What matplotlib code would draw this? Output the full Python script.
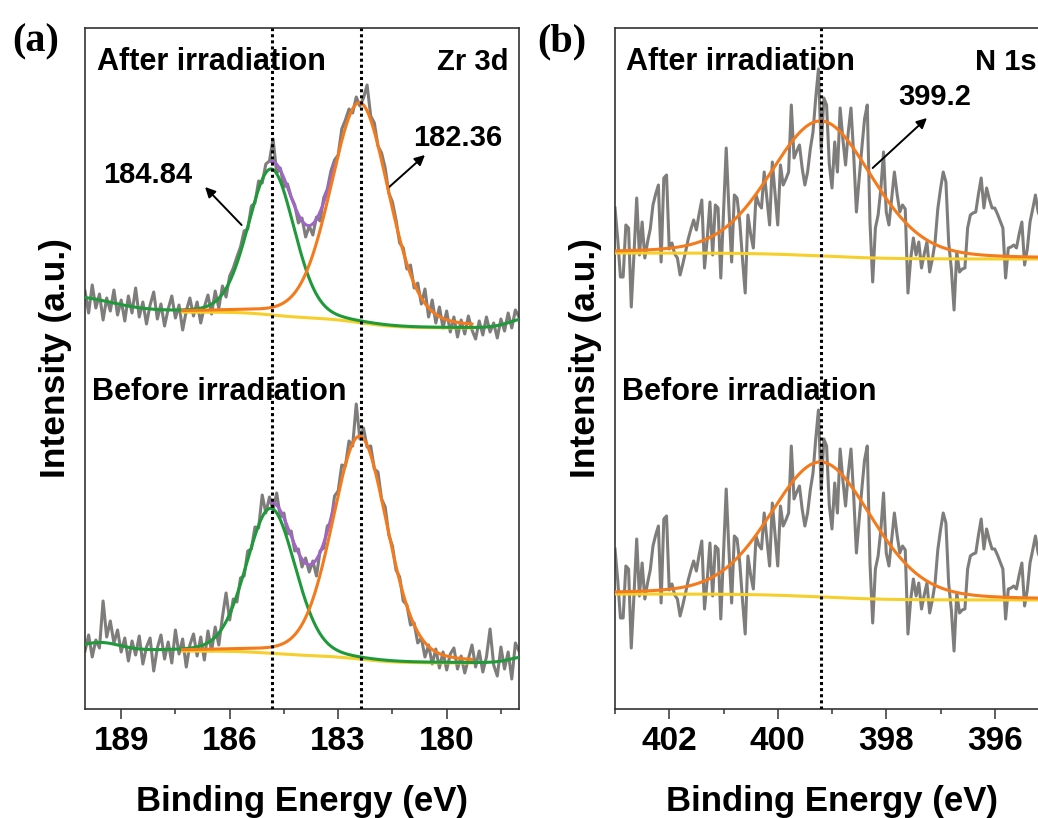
import numpy as np
import matplotlib
matplotlib.use("Agg")
import matplotlib.pyplot as plt
from matplotlib.ticker import MultipleLocator

# ---------------- data ----------------
# Zr 3d spectra: binding energy grid 190.0 -> 178.0 eV, step 0.1 eV (stacked intensities, a.u.)
zr_be_range = (190.0, 178.0, 0.1)
zr_after = [418, 396, 424, 401, 415, 389, 411, 398, 419, 394,
            409, 388, 413, 396, 421, 392, 407, 385, 404, 417,
            390, 405, 383, 400, 413, 391, 404, 379, 398, 411,
            393, 407, 386, 402, 414, 395, 418, 401, 423, 412,
            433, 441, 452, 462, 478, 480, 503, 506, 528, 526,
            545, 548, 570, 536, 541, 522, 525, 512, 504, 486,
            491, 472, 483, 474, 492, 488, 511, 520, 538, 549,
            554, 580, 589, 600, 596, 612, 603, 611, 624, 593,
            586, 563, 556, 541, 516, 507, 489, 466, 461, 440,
            444, 421, 426, 405, 420, 392, 409, 386, 402, 381,
            398, 377, 392, 372, 389, 375, 393, 379, 370, 388,
            374, 392, 377, 386, 371, 390, 378, 396, 381, 399,
            392]
zr_before = [58, 74, 52, 69, 61, 108, 72, 88, 66, 79,
             57, 71, 48, 68, 54, 73, 45, 62, 71, 38,
             61, 74, 50, 67, 46, 79, 55, 70, 42, 64,
             75, 53, 72, 49, 78, 58, 82, 64, 92, 116,
             89, 110, 107, 131, 133, 158, 160, 182, 181, 214,
             196, 212, 199, 216, 192, 196, 175, 178, 158, 160,
             142, 151, 137, 148, 133, 158, 161, 183, 186, 213,
             218, 244, 243, 268, 263, 305, 270, 281, 262, 263,
             240, 237, 210, 202, 174, 163, 139, 132, 108, 104,
             84, 86, 66, 71, 52, 64, 45, 60, 41, 57,
             39, 55, 61, 40, 53, 36, 50, 64, 42, 58,
             37, 52, 80, 44, 33, 62, 40, 57, 30, 66,
             58]

# Zr 3d fitted components: [3d3/2, 3d5/2]
zr_peak_labels = ["184.84", "182.36"]
zr_peak_positions = [184.84, 182.36]
zr_after_centers = [184.85, 182.40]
zr_after_fwhm = [1.50, 1.90]
zr_after_heights = [146, 220]
zr_before_centers = [184.86, 182.40]
zr_before_fwhm = [1.60, 1.80]
zr_before_heights = [145, 223]
zr_eta = [0.15, 0.20]
zr_after_bg = [397, 381]      # Shirley background: high-BE end, low-BE end
zr_before_bg = [58, 46]
zr_after_edges = [(190.4, 2.6, 15), (177.7, 1.2, 10)]   # edge features (center, fwhm, height)
zr_before_edges = [(189.6, 1.3, 8), (177.8, 1.0, 6)]
zr_fit_window = (187.3, 179.3)
zr_envelope_window = (184.85, 183.1)

# N 1s spectrum: 403.0 -> 395.0 eV, step 0.05 eV (after irradiation; before = same trace shifted)
n1s_be_range = (403.0, 395.0, 0.05)
n1s_after = [501, 470, 432, 432, 484, 481, 402, 455, 511, 454,
             487, 451, 467, 480, 504, 515, 524, 447, 531, 534,
             460, 466, 455, 451, 434, 445, 457, 470, 480, 489,
             479, 495, 509, 441, 470, 507, 454, 504, 501, 431,
             495, 561, 500, 447, 514, 511, 487, 450, 416, 494,
             475, 461, 514, 505, 501, 537, 510, 484, 547, 515,
             484, 544, 524, 530, 537, 604, 551, 558, 564, 541,
             524, 537, 560, 577, 611, 640, 560, 611, 604, 545,
             521, 567, 537, 601, 570, 544, 577, 601, 554, 497,
             530, 561, 590, 604, 487, 427, 481, 494, 520, 557,
             497, 484, 510, 537, 515, 497, 504, 500, 416, 450,
             471, 454, 467, 441, 455, 467, 437, 450, 467, 500,
             520, 537, 527, 467, 440, 399, 457, 437, 440, 441,
             481, 494, 496, 497, 515, 531, 501, 521, 510, 501,
             501, 495, 488, 481, 431, 461, 462, 464, 461, 475,
             487, 444, 460, 487, 500, 514, 497, 490, 480, 470,
             485]
n1s_before_shift = -341
n1s_peak_label = "399.2"
n1s_peak_position = 399.2
n1s_center, n1s_fwhm, n1s_height, n1s_eta = 399.2, 2.2, 135, 0.2
n1s_bg = [456, 450]

# ---------------- style ----------------
plt.rcParams['font.family'] = ['Liberation Sans', 'DejaVu Sans']
plt.rcParams['font.weight'] = 'bold'
C_GRAY = '#7f7d7b'
C_GREEN = '#1e9a3a'
C_ORANGE = '#f47a1c'
C_YELLOW = '#f7cf2a'
C_PURPLE = '#a066c6'
LW = 2.2


def pvoigt(x, c, w, h, eta):
    g = np.exp(-4 * np.log(2) * ((x - c) / w) ** 2)
    lz = 1.0 / (1.0 + 4 * ((x - c) / w) ** 2)
    return h * ((1 - eta) * g + eta * lz)


def shirley(x, comps, hi, lo):
    tot = np.sum(comps, axis=0)
    cum = np.cumsum(tot[::-1])[::-1]
    return lo + (hi - lo) * cum / cum[0]


def grid(r):
    a, b, s = r
    n = int(round((a - b) / s)) + 1
    return a - s * np.arange(n)


ARROW = dict(arrowstyle='-|>', color='black', lw=1.4, mutation_scale=15, shrinkA=0, shrinkB=0)

W, H = 1038, 818
fig = plt.figure(figsize=(W / 100, H / 100), dpi=100)
ax1 = fig.add_axes([85 / W, 109 / H, 434 / W, 681 / H])
ax2 = fig.add_axes([615 / W, 109 / H, 434 / W, 681 / H])

# ---------------- panel (a) ----------------
be = grid(zr_be_range)
xf = np.linspace(zr_be_range[0], zr_be_range[1], 1201)
for data, cen, fw, hh, bgp, edges in [
        (zr_after, zr_after_centers, zr_after_fwhm, zr_after_heights, zr_after_bg, zr_after_edges),
        (zr_before, zr_before_centers, zr_before_fwhm, zr_before_heights, zr_before_bg, zr_before_edges)]:
    ax1.plot(be, data, color=C_GRAY, lw=LW, zorder=1)
    comps = [pvoigt(xf, cen[i], fw[i], hh[i], zr_eta[i]) for i in range(2)]
    bg = shirley(xf, comps, bgp[0], bgp[1])
    edge = sum(pvoigt(xf, c, w, h, 0.0) for c, w, h in edges)
    win = (xf <= zr_fit_window[0]) & (xf >= zr_fit_window[1])
    ewin = (xf <= zr_envelope_window[0]) & (xf >= zr_envelope_window[1])
    ax1.plot(xf[ewin], (bg + comps[0] + comps[1])[ewin], color=C_PURPLE, lw=LW, zorder=2)
    ax1.plot(xf[win], bg[win], color=C_YELLOW, lw=LW, zorder=3)
    ax1.plot(xf, bg + comps[0] + edge, color=C_GREEN, lw=LW, zorder=4)
    ax1.plot(xf[win], (bg + comps[1])[win], color=C_ORANGE, lw=LW, zorder=5)

for p in zr_peak_positions:
    ax1.axvline(p, color='black', lw=2.2, linestyle=(0, (1, 1)), zorder=6)

ax1.annotate('', xy=(186.68, 522), xytext=(185.67, 484), arrowprops=ARROW)
ax1.text(188.26, 534, zr_peak_labels[0], fontsize=21, fontweight='bold', ha='center', va='center')
ax1.annotate('', xy=(180.60, 554), xytext=(181.62, 521), arrowprops=ARROW)
ax1.text(179.69, 571, zr_peak_labels[1], fontsize=21, fontweight='bold', ha='center', va='center')

ax1.text(0.028, 0.938, 'After irradiation', transform=ax1.transAxes, fontsize=22,
         fontweight='bold', ha='left', va='baseline')
ax1.text(0.975, 0.938, 'Zr 3d', transform=ax1.transAxes, fontsize=21,
         fontweight='bold', ha='right', va='baseline')
ax1.text(0.016, 0.454, 'Before irradiation', transform=ax1.transAxes, fontsize=22,
         fontweight='bold', ha='left', va='baseline')
ax1.set_xlim(zr_be_range[0], zr_be_range[1])
ax1.xaxis.set_major_locator(MultipleLocator(3))
ax1.xaxis.set_minor_locator(MultipleLocator(1.5))

# ---------------- panel (b) ----------------
be2 = grid(n1s_be_range)
xf2 = np.linspace(n1s_be_range[0], n1s_be_range[1], 801)
for shift in (0, n1s_before_shift):
    ax2.plot(be2, np.array(n1s_after) + shift, color=C_GRAY, lw=LW, zorder=1)
    comp = pvoigt(xf2, n1s_center, n1s_fwhm, n1s_height, n1s_eta)
    bg2 = shirley(xf2, [comp], n1s_bg[0] + shift, n1s_bg[1] + shift)
    ax2.plot(xf2, bg2, color=C_YELLOW, lw=LW, zorder=3)
    ax2.plot(xf2, bg2 + comp, color=C_ORANGE, lw=LW, zorder=5)
ax2.axvline(n1s_peak_position, color='black', lw=2.2, linestyle=(0, (1, 1)), zorder=6)
ax2.annotate('', xy=(397.25, 591), xytext=(398.25, 541), arrowprops=ARROW)
ax2.text(397.11, 612, n1s_peak_label, fontsize=21, fontweight='bold', ha='center', va='center')
ax2.text(0.025, 0.938, 'After irradiation', transform=ax2.transAxes, fontsize=22,
         fontweight='bold', ha='left', va='baseline')
ax2.text(0.829, 0.938, 'N 1s', transform=ax2.transAxes, fontsize=21,
         fontweight='bold', ha='left', va='baseline')
ax2.text(0.016, 0.454, 'Before irradiation', transform=ax2.transAxes, fontsize=22,
         fontweight='bold', ha='left', va='baseline')
ax2.set_xlim(n1s_be_range[0], n1s_be_range[1])
ax2.xaxis.set_major_locator(MultipleLocator(2))
ax2.xaxis.set_minor_locator(MultipleLocator(1))

# ---------------- common axes styling ----------------
for ax, lab, lx in ((ax1, '(a)', -0.168), (ax2, '(b)', -0.180)):
    ax.set_ylim(0, 681)
    ax.set_yticks([])
    for s in ax.spines.values():
        s.set_linewidth(1.2)
        s.set_color('#333333')
    ax.tick_params(axis='x', which='major', direction='out', length=7.2, width=1.1,
                   pad=5, labelsize=24, color='#333333')
    ax.tick_params(axis='x', which='minor', direction='out', length=3.8, width=1.1,
                   color='#333333')
    for t in ax.get_xticklabels():
        t.set_fontweight('bold')
    ax.set_xlabel('Binding Energy (eV)', fontsize=25, fontweight='bold')
    ax.xaxis.set_label_coords(0.5, -0.111)
    ax.set_ylabel('Intensity (a.u.)', fontsize=25.5, fontweight='bold')
    ax.yaxis.set_label_coords(-0.03, 0.516)
    ax.text(lx, 0.979, lab, transform=ax.transAxes, fontsize=29, fontweight='bold',
            family=['Liberation Serif', 'DejaVu Serif'], ha='left', va='center')

fig.savefig('out.png', dpi=100)
